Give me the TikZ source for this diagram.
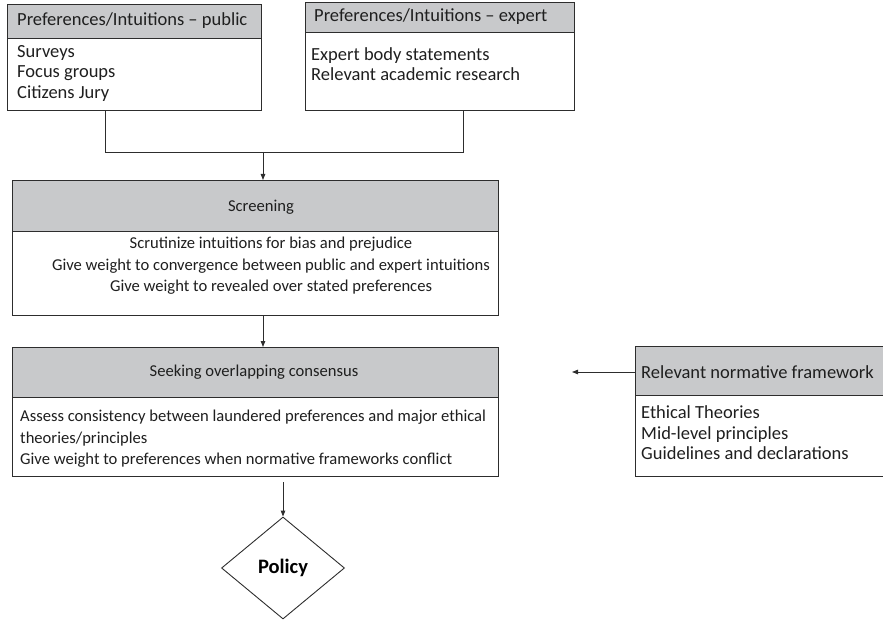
\documentclass[tikz,border=0pt]{standalone}
\usepackage{fontspec}
\setmainfont{Carlito}
\usetikzlibrary{shapes.geometric,arrows.meta}
\definecolor{hdrgray}{RGB}{200,201,203}
\definecolor{linec}{RGB}{45,45,45}
\tikzset{
  boxline/.style={draw=linec, line width=0.9pt, inner sep=0pt, anchor=north west},
  hdrbox/.style={boxline, fill=hdrgray},
  bodybox/.style={boxline, fill=white},
  txt/.style={inner sep=0pt, font=\fontsize{18.5}{20.5}\selectfont, text=black!88},
  txts/.style={inner sep=0pt, font=\fontsize{16.6}{21.5}\selectfont, text=black!88},
  arr/.style={draw=linec, line width=0.9pt, -{Triangle[length=6pt,width=4.5pt]}},
  conn/.style={draw=linec, line width=0.9pt},
  policy/.style={diamond, draw=linec, line width=0.9pt, minimum width=123pt, minimum height=102pt, inner sep=0pt, font=\fontsize{20.5}{24}\selectfont\bfseries}
}
\begin{document}
\begin{tikzpicture}[x=1pt,y=-1pt]
\useasboundingbox (0,0) rectangle (883,620);
% public
\node[hdrbox, minimum width=254pt, minimum height=34pt] (pubhead) at (7,4) {};
\node[bodybox, minimum width=254pt, minimum height=72pt] (pubbody) at (7,38) {};
\node[txt, anchor=west] (pubt) at (17,21) {Preferences/Intuitions -- public};
\node[txt, anchor=west, align=left] (pubb) at (17,73) {Surveys\\Focus groups\\Citizens Jury};
% expert
\node[hdrbox, minimum width=269pt, minimum height=30pt] (exphead) at (305,2) {};
\node[bodybox, minimum width=269pt, minimum height=78pt] (expbody) at (305,32) {};
\node[txt, anchor=west] (expt) at (314,17) {Preferences/Intuitions -- expert};
\node[txt, anchor=west, align=left] (expb) at (311,64) {Expert body statements\\Relevant academic research};
% screening
\node[hdrbox, minimum width=486pt, minimum height=51pt] (scrhead) at (12,180) {};
\node[bodybox, minimum width=486pt, minimum height=84pt] (scrbody) at (12,231) {};
\node[txts] (scrt) at (261,207) {Screening};
\node[txts, align=center] (scrb) at (271,266) {Scrutinize intuitions for bias and prejudice\\Give weight to convergence between public and expert intuitions\\Give weight to revealed over stated preferences};
% seeking
\node[hdrbox, minimum width=486pt, minimum height=50pt] (seekhead) at (12,347) {};
\node[bodybox, minimum width=486pt, minimum height=79pt] (seekbody) at (12,397) {};
\node[txts] (seekt) at (254,372) {Seeking overlapping consensus};
\node[txts, anchor=west, align=left] (seekb) at (20,439) {Assess consistency between laundered preferences and major ethical\\theories/principles\\Give weight to preferences when normative frameworks conflict};
% normative
\node[hdrbox, minimum width=260pt, minimum height=49pt] (normhead) at (635,346) {};
\node[bodybox, minimum width=260pt, minimum height=81pt] (normbody) at (635,395) {};
\node[txt, anchor=west] (normt) at (641,372) {Relevant normative framework};
\node[txt, anchor=west, align=left] (normb) at (641,433) {Ethical Theories\\Mid-level principles\\Guidelines and declarations};
% policy
\node[policy] (pol) at (283,568) {Policy};
% connectors
\coordinate (jl) at (105,152);
\coordinate (jm) at (263,152);
\coordinate (jr) at (463,152);
\draw[conn] (pubbody.south -| jl) -- (jl) -- (jr) -- (expbody.south -| jr);
\draw[arr] (jm) -- (jm |- scrhead.north);
\draw[arr] (scrbody.south -| jm) -- (jm |- seekhead.north);
\coordinate (na) at (572,372);
\draw[arr] (normhead.west |- na) -- (na);
\coordinate (pa) at (283,482);
\draw[arr] (pa) -- (pol.north);
\end{tikzpicture}
\end{document}
